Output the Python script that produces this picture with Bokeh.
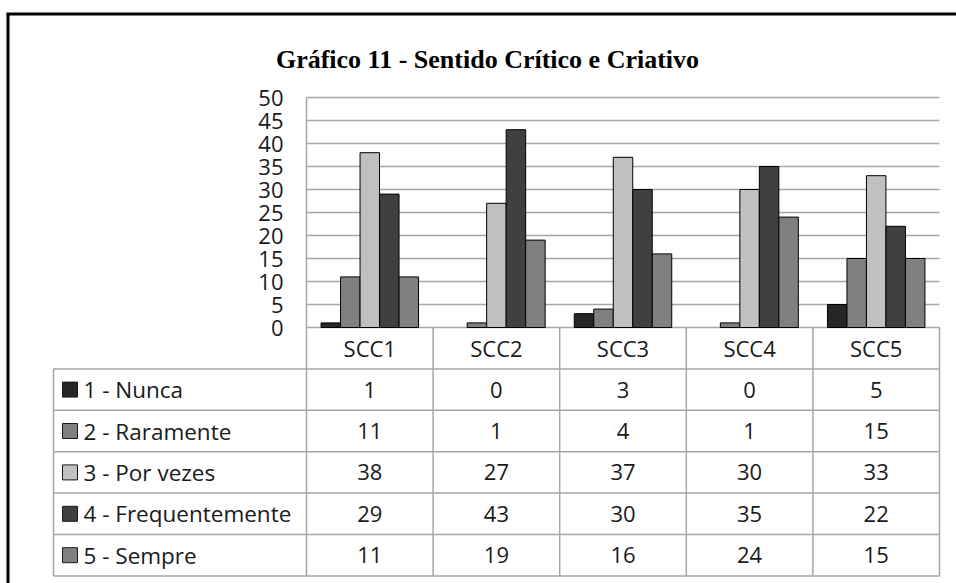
from bokeh.plotting import figure
from bokeh.models import Range1d
from bokeh.core.properties import value
from bokeh.embed import file_html
from bokeh.resources import INLINE

# ---------------- data ----------------
categories = ["SCC1", "SCC2", "SCC3", "SCC4", "SCC5"]
series_names = ["1 - Nunca", "2 - Raramente", "3 - Por vezes", "4 - Frequentemente", "5 - Sempre"]
nunca = [1, 0, 3, 0, 5]
raramente = [11, 1, 4, 1, 15]
por_vezes = [38, 27, 37, 30, 33]
frequentemente = [29, 43, 30, 35, 22]
sempre = [11, 19, 16, 24, 15]
y_ticks = [0, 5, 10, 15, 20, 25, 30, 35, 40, 45, 50]
title_text = "Gráfico 11 - Sentido Crítico e Criativo"

series_values = [nunca, raramente, por_vezes, frequentemente, sempre]
colors = ["#262626", "#808080", "#c0c0c0", "#404040", "#808080"]

# ---------------- layout (pixels of the picture) ----------------
W, H = 956, 583
ORIGIN = 0
PX0 = 306.0           # left edge of plot area
CATW = 126.6          # width of one category column
PY0 = 327.0           # zero line
UNIT = 4.6            # pixels per value unit
ROWH = 41.4           # table row height
TABLE_LEFT = 53.0
BW = 0.154            # bar width in category units

def xd(px):
    return (px - PX0) / CATW

def yd(py):
    return (PY0 - py) / UNIT

p = figure(
    width=W, height=H,
    x_range=Range1d(xd(ORIGIN), xd(ORIGIN + W)),
    y_range=Range1d(yd(ORIGIN + H), yd(ORIGIN)),
    output_backend="svg", toolbar_location=None,
    x_axis_location=None, y_axis_location=None,
    min_border=0, min_border_left=0, min_border_right=0,
    min_border_top=0, min_border_bottom=0,
)
p.outline_line_color = None
p.background_fill_color = "white"
p.border_fill_color = "white"
p.xgrid.visible = False
p.ygrid.visible = False

grid_color = "#a6a6a6"
txt_font = value("Open Sans")
ncat = len(categories)
ymax = y_ticks[-1]

# outer frame (left + top)
p.segment(x0=[xd(7.5), xd(6)], y0=[yd(13.5), yd(13.5)],
          x1=[xd(7.5), xd(ORIGIN + W)], y1=[yd(ORIGIN + H), yd(13.5)],
          line_color="black", line_width=3)

# title
p.text(x=[xd(487)], y=[yd(58.5)], text=[title_text],
       text_font=value("Liberation Serif"), text_font_style="bold",
       text_font_size="26px", text_align="center", text_baseline="alphabetic",
       text_color="black")

# horizontal gridlines
p.segment(x0=[0] * len(y_ticks), y0=y_ticks, x1=[ncat] * len(y_ticks), y1=y_ticks,
          line_color=grid_color, line_width=1.5)
# value axis line
p.segment(x0=[0], y0=[0], x1=[0], y1=[ymax], line_color=grid_color, line_width=1.5)

# y tick labels
p.text(x=[xd(283)] * len(y_ticks), y=y_ticks, text=[str(t) for t in y_ticks],
       text_font=txt_font, text_font_size="22px", text_align="right",
       text_baseline="middle", text_color="#1a1a1a")

# bars
for j, (vals, col) in enumerate(zip(series_values, colors)):
    xs = [i + 0.5 + (j - 2) * BW for i in range(ncat)]
    p.vbar(x=xs, top=vals, bottom=0, width=BW, fill_color=col,
           line_color="black", line_width=1,
           line_alpha=[0.0 if v == 0 else 1.0 for v in vals])

# ---------------- data table ----------------
row_edges = [PY0 + k * ROWH for k in range(len(series_names) + 2)]
table_bottom = row_edges[-1]

hx0, hy0, hx1, hy1 = [], [], [], []
for k in range(1, len(row_edges)):
    hx0.append(xd(TABLE_LEFT)); hx1.append(ncat)
    hy0.append(yd(row_edges[k])); hy1.append(yd(row_edges[k]))
vx0, vy0, vx1, vy1 = [], [], [], []
for i in range(ncat + 1):
    vx0.append(i); vx1.append(i); vy0.append(0); vy1.append(yd(table_bottom))
vx0.append(xd(TABLE_LEFT)); vx1.append(xd(TABLE_LEFT))
vy0.append(yd(row_edges[1])); vy1.append(yd(table_bottom))
p.segment(x0=hx0 + vx0, y0=hy0 + vy0, x1=hx1 + vx1, y1=hy1 + vy1,
          line_color=grid_color, line_width=1.5)

# category headers
hdr_y = yd((row_edges[0] + row_edges[1]) / 2)
p.text(x=[i + 0.5 for i in range(ncat)], y=[hdr_y] * ncat, text=categories,
       text_font=txt_font, text_font_size="22px", text_align="center",
       text_baseline="middle", text_color="#1a1a1a")

# series rows
for j, (name, vals, col) in enumerate(zip(series_names, series_values, colors)):
    cy = yd((row_edges[j + 1] + row_edges[j + 2]) / 2)
    p.rect(x=[xd(69.5)], y=[cy], width=15, height=15, width_units="screen",
           height_units="screen", fill_color=col, line_color="#1a1a1a", line_width=1)
    p.text(x=[xd(83)], y=[cy], text=[name], text_font=txt_font,
           text_font_size="22.5px", text_align="left", text_baseline="middle",
           text_color="#1a1a1a")
    p.text(x=[i + 0.5 for i in range(ncat)], y=[cy] * ncat, text=[str(v) for v in vals],
           text_font=txt_font, text_font_size="22px", text_align="center",
           text_baseline="middle", text_color="#1a1a1a")

open("out.html", "w").write(file_html(p, INLINE))
